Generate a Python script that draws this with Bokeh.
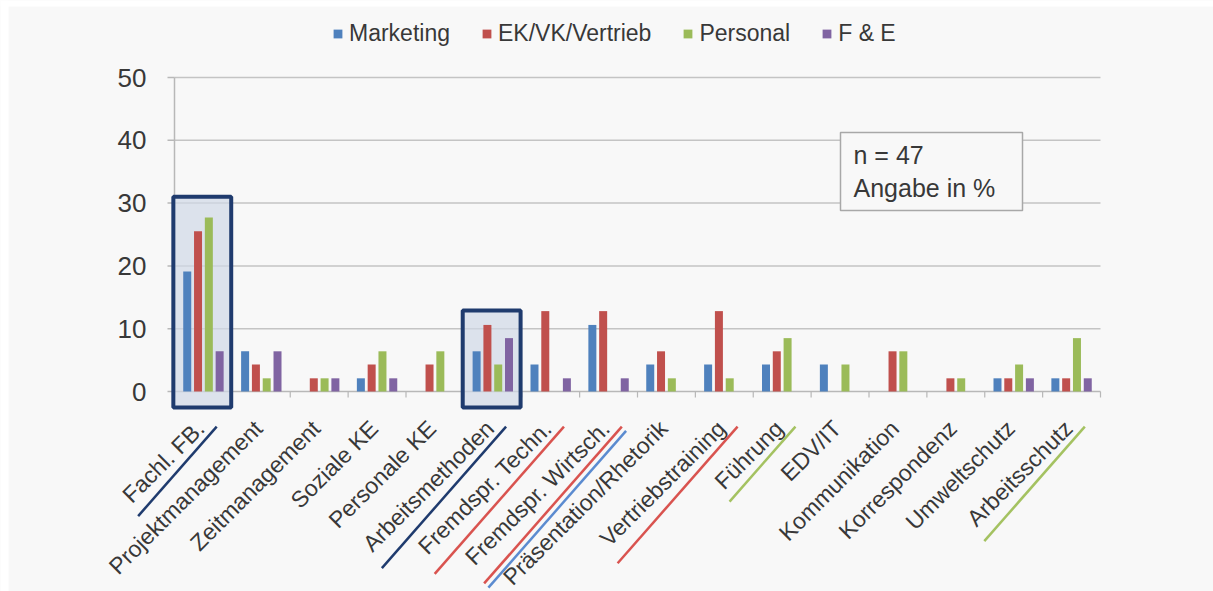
import math
from bokeh.plotting import figure
from bokeh.models import ColumnDataSource, Legend, LegendItem, Range1d
from bokeh.embed import file_html
from bokeh.resources import INLINE
from bokeh.core.properties import value

# ---------------- data ----------------
categories = ["Fachl. FB.", "Projektmanagement", "Zeitmanagement", "Soziale KE",
              "Personale KE", "Arbeitsmethoden", "Fremdspr. Techn.", "Fremdspr. Wirtsch.",
              "Präsentation/Rhetorik", "Vertriebstraining", "Führung", "EDV/IT",
              "Kommunikation", "Korrespondenz", "Umweltschutz", "Arbeitsschutz"]
series_names = ["Marketing", "EK/VK/Vertrieb", "Personal", "F & E"]
marketing      = [19.1, 6.4, 0.0, 2.1, 0.0, 6.4, 4.3, 10.6, 4.3, 4.3, 4.3, 4.3, 0.0, 0.0, 2.1, 2.1]
ek_vk_vertrieb = [25.5, 4.3, 2.1, 4.3, 4.3, 10.6, 12.8, 12.8, 6.4, 12.8, 6.4, 0.0, 6.4, 2.1, 2.1, 2.1]
personal       = [27.7, 2.1, 2.1, 6.4, 6.4, 4.3, 0.0, 0.0, 2.1, 2.1, 8.5, 4.3, 6.4, 2.1, 4.3, 8.5]
f_und_e        = [6.4, 6.4, 2.1, 2.1, 0.0, 8.5, 2.1, 2.1, 0.0, 0.0, 0.0, 0.0, 0.0, 0.0, 2.1, 2.1]
y_ticks = [0, 10, 20, 30, 40, 50]
highlighted = ["Fachl. FB.", "Arbeitsmethoden"]
highlight_tops = [31.0, 12.9]
underlined = ["Fachl. FB.", "Arbeitsmethoden", "Fremdspr. Techn.", "Fremdspr. Wirtsch.",
              "Fremdspr. Wirtsch.", "Vertriebstraining", "Führung", "Arbeitsschutz"]
underline_colors = ["#1f3b6e", "#1f3b6e", "#d9534f", "#d9534f", "#5b8bd0", "#d9534f", "#a4c261", "#a4c261"]
underline_extra = [0, 0, 0, 0, 6, 0, 0, 0]
note_lines = ["n = 47", "Angabe in %"]

# ---------------- style / layout ----------------
colors = ["#4f81bd", "#c0504d", "#9bbb59", "#8064a2"]
FONT = "Liberation Sans"
TXT = "#383838"
BG = "#f8f8f8"
W, H = 1213, 591
BL, BT = 8, 6
X0PX, CATPX = 174.0, 926.0 / 16
Y0PX, UNITPX = 391.0, 314.0 / 50

def xd(px):
    return (px - X0PX) / CATPX

def yd(py):
    return (Y0PX - py) / UNITPX

def dx(px):
    return px / CATPX

def dy(py):
    return py / UNITPX

# Arial / Liberation Sans advance widths (per 1000 em)
CW = {' ': 278, '.': 278, '/': 278, '&': 667, '%': 889, '=': 584,
      'A': 667, 'B': 667, 'C': 722, 'D': 722, 'E': 667, 'F': 611, 'G': 778, 'I': 278,
      'K': 667, 'M': 833, 'P': 667, 'R': 722, 'S': 667, 'T': 611, 'U': 722, 'V': 667,
      'W': 944, 'Z': 611, 'a': 556, 'b': 556, 'c': 500, 'd': 556, 'e': 556, 'f': 278,
      'g': 556, 'h': 556, 'i': 222, 'j': 222, 'k': 500, 'l': 222, 'm': 833, 'n': 556,
      'o': 556, 'p': 556, 'r': 333, 's': 500, 't': 278, 'u': 556, 'v': 500, 'w': 722,
      'z': 500, 'ä': 556, 'ü': 556}

def text_w(s, size):
    return sum(CW.get(ch, 556) for ch in s) * size / 1000.0

LABEL_SIZE = 23
LAB_Y = 424.0

p = figure(width=W, height=H,
           x_range=Range1d(xd(0), xd(W)), y_range=Range1d(yd(H), yd(0)),
           output_backend="svg", toolbar_location=None,
           x_axis_location=None, y_axis_location=None,
           min_border_left=0, min_border_top=0, min_border_right=0, min_border_bottom=0)
p.xgrid.visible = False
p.ygrid.visible = False
p.outline_line_color = None
p.background_fill_color = BG
p.border_fill_color = BG

n = len(categories)

# white page margin at left and top
p.quad(left=[xd(0), xd(0)], right=[xd(BL), xd(W)], top=[yd(0), yd(0)], bottom=[yd(H), yd(BT)],
       fill_color="white", line_color=None)

# gridlines + axes
grid_y = [t for t in y_ticks if t > 0]
p.segment(x0=[0] * len(grid_y), x1=[n] * len(grid_y), y0=grid_y, y1=grid_y,
          line_color="#c4c4c4", line_width=1.5)
p.segment(x0=[0], x1=[n], y0=[0], y1=[0], line_color="#b8b8b8", line_width=1.5)
p.segment(x0=[0], x1=[0], y0=[y_ticks[0]], y1=[y_ticks[-1]], line_color="#b8b8b8", line_width=1.5)
p.segment(x0=[-dx(7)] * len(y_ticks), x1=[0] * len(y_ticks), y0=y_ticks, y1=y_ticks,
          line_color="#b8b8b8", line_width=1.5)
bounds = list(range(n + 1))
p.segment(x0=bounds, x1=bounds, y0=[0] * len(bounds), y1=[-dy(6)] * len(bounds),
          line_color="#b8b8b8", line_width=1.2)

# highlight boxes (fill)
hi_idx = [categories.index(c) for c in highlighted]
box_src = ColumnDataSource(dict(left=[i - 0.02 for i in hi_idx],
                                right=[i + 0.98 for i in hi_idx],
                                top=highlight_tops,
                                bottom=[yd(407)] * len(hi_idx)))
p.quad(left="left", right="right", top="top", bottom="bottom", source=box_src,
       fill_color="#d0d9e7", fill_alpha=0.7, line_color=None)

# bars
series = [marketing, ek_vk_vertrieb, personal, f_und_e]
spacing = dx(10.8)
bw = dx(8.0)
renderers = []
for k, (name, vals, col) in enumerate(zip(series_names, series, colors)):
    src = ColumnDataSource(dict(x=[i + 0.5 + (k - 1.5) * spacing for i in range(n)], top=vals))
    r = p.vbar(x="x", top="top", bottom=0, width=bw, source=src, fill_color=col, line_color=None)
    renderers.append(r)

# highlight boxes (border)
p.quad(left="left", right="right", top="top", bottom="bottom", source=box_src,
       fill_color=None, line_color="#1f3b6e", line_width=4)

# note box
p.quad(left=[xd(840)], right=[xd(1022)], top=[yd(132)], bottom=[yd(210)],
       fill_color=BG, line_color="#a8a8a8", line_width=1.5)
p.text(x=[xd(853)] * 2, y=[yd(154), yd(187)], text=note_lines,
       text_font=value(FONT), text_font_size="25px", text_color=TXT,
       text_align="left", text_baseline="middle")

# y tick labels
p.text(x=[-dx(28)] * len(y_ticks), y=y_ticks, text=[str(t) for t in y_ticks],
       text_font=value(FONT), text_font_size="26px", text_color=TXT,
       text_align="right", text_baseline="middle")

# x category labels, rotated
ang = math.pi / 4
lab_x = [xd((i + 0.5) * CATPX + X0PX - 3) for i in range(n)]
lab_y = [yd(LAB_Y)] * n
p.text(x=lab_x, y=lab_y, text=categories, angle=ang,
       text_font=value(FONT), text_font_size=f"{LABEL_SIZE}px", text_color=TXT,
       text_align="right", text_baseline="middle")

# underlines below selected labels
c = math.cos(ang)
ux0, uy0, ux1, uy1 = [], [], [], []
for lab, extra in zip(underlined, underline_extra):
    i = categories.index(lab)
    ax = (i + 0.5) * CATPX + X0PX - 3
    ay = LAB_Y
    w = text_w(lab, LABEL_SIZE)
    fwd, back = 10.0, w + 4.0
    pt = 13.0 + extra
    pb = pt + 0.065 * (fwd + back)
    x_top = ax + c * fwd + c * pt
    y_top = ay - c * fwd + c * pt
    x_bot = ax - c * back + c * pb
    y_bot = ay + c * back + c * pb
    ux0.append(xd(x_top)); uy0.append(yd(y_top))
    ux1.append(xd(x_bot)); uy1.append(yd(y_bot))
p.segment(x0=ux0, y0=uy0, x1=ux1, y1=uy1, line_color=underline_colors, line_width=2.5)

# legend
legend = Legend(items=[LegendItem(label=nm, renderers=[r]) for nm, r in zip(series_names, renderers)],
                orientation="horizontal", location=(332, 544),
                glyph_width=11, glyph_height=11, label_standoff=6, spacing=31,
                padding=0, margin=0, border_line_color=None, background_fill_alpha=0,
                label_text_font=FONT, label_text_font_size="23px", label_text_color=TXT)
p.add_layout(legend, "center")

open("out.html", "w").write(file_html(p, INLINE))
